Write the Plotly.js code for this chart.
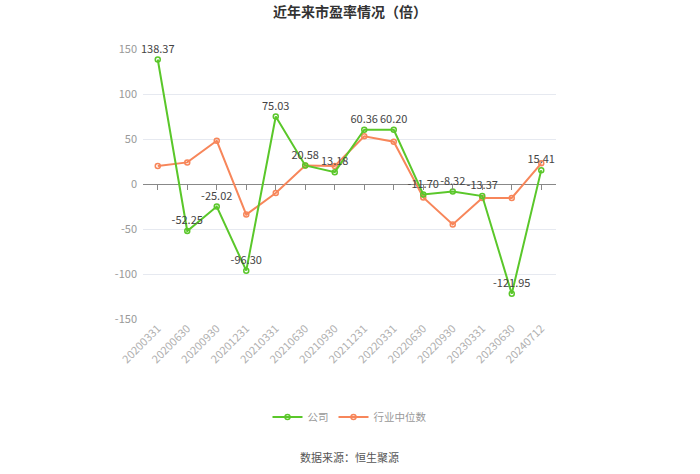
<!DOCTYPE html>
<html>
<head>
<meta charset="utf-8">
<script src="https://cdn.plot.ly/plotly-3.0.1.min.js"></script>
<style>html,body{margin:0;padding:0;background:#fff;}#chart{width:700px;height:474px;}</style>
</head>
<body>
<div id="chart"></div>
<script>
const categories = ["20200331","20200630","20200930","20201231","20210331","20210630","20210930","20211231","20220331","20220630","20220930","20230331","20230630","20240712"];
const companyPE = [138.37,-52.25,-25.02,-96.30,75.03,20.58,13.18,60.36,60.20,-11.70,-8.32,-13.37,-121.95,15.41];
const industryPE = [20,24,48,-34,-10,20.5,20,53,47,-15,-45,-15.5,-15.5,23];
const companyLabels = companyPE.map(v => v.toFixed(2));
const yTicks = [-150,-100,-50,0,50,100,150];

const font = '"Microsoft YaHei","Noto Sans CJK SC","Noto Sans",sans-serif';
const xRange = [-0.5, categories.length - 0.5];

const traces = [
  {
    x: categories, y: categories.map(() => 0), xaxis: 'x2', yaxis: 'y',
    type: 'scatter', mode: 'lines', line: {width: 0}, showlegend: false, hoverinfo: 'skip'
  },
  {
    x: categories, y: industryPE, name: '行业中位数', type: 'scatter', mode: 'lines+markers',
    line: {color: '#f7865a', width: 2},
    marker: {symbol: 'circle-open', size: 5, color: '#f7865a', line: {width: 1.5}},
    hoverinfo: 'skip', cliponaxis: false
  },
  {
    x: categories, y: companyPE, name: '公司', type: 'scatter', mode: 'lines+markers+text',
    text: companyLabels, textposition: 'top center',
    textfont: {family: font, size: 11, color: '#444'},
    line: {color: '#5ac72a', width: 2},
    marker: {symbol: 'circle-open', size: 5, color: '#5ac72a', line: {width: 1.5}},
    hoverinfo: 'skip', cliponaxis: false
  }
];

const layout = {
  width: 700, height: 474,
  margin: {l: 143, r: 144, t: 49, b: 155},
  paper_bgcolor: '#fff', plot_bgcolor: '#fff',
  font: {family: font, color: '#999', size: 11},
  title: {text: '<b>近年来市盈率情况（倍）</b>', x: 0.5, xanchor: 'center', y: 0.975, yanchor: 'middle',
          font: {family: font, size: 14, color: '#333'}},
  showlegend: true,
  legend: {orientation: 'h', x: 0.5, xanchor: 'center', y: -0.363, yanchor: 'middle',
           traceorder: 'reversed', font: {family: font, size: 10.5, color: '#999'}},
  xaxis: {
    type: 'category', categoryorder: 'array', categoryarray: categories, range: xRange,
    tickangle: -45, showgrid: false,
    tickfont: {family: font, size: 11, color: '#b0b0b0'},
    zeroline: false, showline: false, ticks: '', fixedrange: true
  },
  xaxis2: {
    type: 'category', categoryorder: 'array', categoryarray: categories, range: xRange,
    overlaying: 'x', anchor: 'free', position: 0.5, side: 'bottom',
    showticklabels: false, ticks: 'outside', ticklen: 5, tickcolor: '#888', tickwidth: 1,
    showgrid: false, zeroline: false, showline: false, fixedrange: true
  },
  yaxis: {
    range: [-150, 150], tickvals: yTicks, ticktext: yTicks.map(String),
    showgrid: true, gridcolor: '#e6e9f0', gridwidth: 1,
    zeroline: true, zerolinecolor: '#888', zerolinewidth: 1,
    tickfont: {family: font, size: 11, color: '#999'},
    ticks: '', ticklabelstandoff: 5, showline: false, fixedrange: true
  },
  annotations: [
    {text: '数据来源：恒生聚源', xref: 'paper', yref: 'paper', x: 0.5, y: -0.511,
     xanchor: 'center', yanchor: 'middle', showarrow: false,
     font: {family: font, size: 11, color: '#555'}}
  ]
};

Plotly.newPlot('chart', traces, layout, {displayModeBar: false, staticPlot: true});
</script>
</body>
</html>
